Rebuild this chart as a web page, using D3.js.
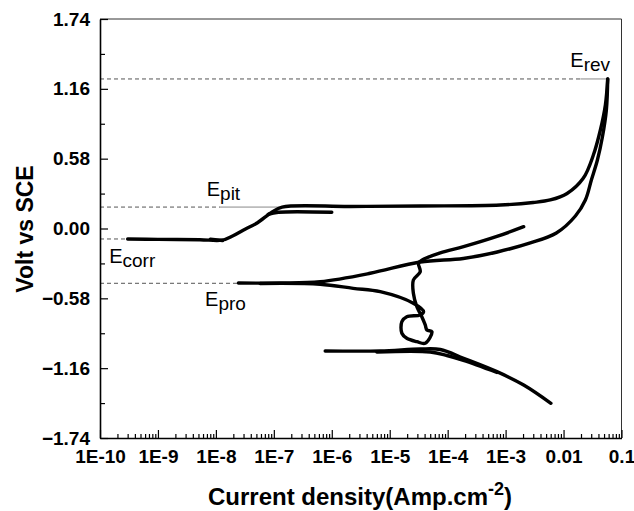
<!DOCTYPE html>
<html>
<head>
<meta charset="utf-8">
<script src="https://cdn.jsdelivr.net/npm/d3@7"></script>
<style>
body { margin: 0; background: #fff; }
text { font-family: "Liberation Sans", Arial, sans-serif; }
</style>
</head>
<body>
<div id="chart"></div>
<script>
// values: [current density A/cm2, volt vs SCE]
var forwardScan = [
  [3.0e-10, -0.087], [1.0e-9, -0.090], [5.3e-9, -0.093], [1.28e-8, -0.097],
  [1.98e-8, -0.060], [3.19e-8, -0.006], [5.15e-8, 0.046], [9.35e-8, 0.137],
  [1.39e-7, 0.178], [2.08e-6, 0.183], [3.37e-5, 0.187], [8.1e-4, 0.195],
  [3.0e-3, 0.216], [5.9e-3, 0.237], [0.0115, 0.291], [0.022, 0.419],
  [0.0327, 0.610], [0.0432, 0.818], [0.0527, 1.026], [0.0578, 1.242]
];
var ecorrBlob = [[8.0e-9, -0.088], [1.3e-8, -0.100]];
var passiveStep = [[8.0e-8, 0.118], [1.2e-7, 0.135], [1.0e-6, 0.135]];
var reverseScan = [
  [0.0578, 1.242], [0.0548, 0.984], [0.0468, 0.760], [0.0384, 0.569],
  [0.0302, 0.403], [0.0238, 0.237], [0.016, 0.104], [7.52e-3, -0.037],
  [2.67e-3, -0.120], [7.19e-4, -0.195], [1.86e-4, -0.249], [3.36e-5, -0.278],
  [4.6e-6, -0.372], [6.3e-7, -0.442], [1.29e-7, -0.453], [2.45e-8, -0.453]
];
var cathodicLoop = [
  [5.8e-8, -0.457], [6.3e-7, -0.463], [2.34e-6, -0.497], [6.86e-6, -0.525],
  [2.55e-5, -0.621], [3.84e-5, -0.691], [3.36e-5, -0.718], [1.97e-5, -0.733],
  [1.62e-5, -0.774], [1.62e-5, -0.870], [1.97e-5, -0.912], [2.94e-5, -0.940],
  [4.1e-5, -0.953], [5.34e-5, -0.857], [4.38e-5, -0.843], [4.1e-5, -0.801],
  [3.58e-5, -0.733], [2.94e-5, -0.650], [2.56e-5, -0.538], [2.56e-5, -0.428],
  [3.36e-5, -0.359], [3.14e-5, -0.289], [3.64e-5, -0.262], [7.45e-5, -0.203],
  [1.88e-4, -0.151], [7.08e-4, -0.066], [2.05e-3, 0.015]
];
var cathodicTail = [
  [7.7e-7, -1.017], [6.86e-6, -1.017], [3.36e-5, -1.001], [7.45e-5, -1.005],
  [1.88e-4, -1.078], [7.08e-4, -1.189], [2.05e-3, -1.300], [6.05e-3, -1.452]
];
var cathodicTail2 = [
  [6.0e-6, -1.026], [5.0e-5, -1.026], [9.7e-5, -1.055], [1.87e-4, -1.095], [7.08e-4, -1.195]
];

// reference potentials
var refNames = ["rev", "pit", "corr", "pro"];
var refVolts = [1.242, 0.178, -0.087, -0.455];
var refDashEnd = [0.0195, 1.18e-8, 3.0e-10, 2.45e-8];
var refSolidEnd = [0.0578, 1.29e-7, null, null];
var labelCurrents = [0.0131, 6.95e-9, 1.44e-10, 6.5e-9];
var labelOffsets = [-12, -11, 24, 23];

var xTicks = [1e-10, 1e-9, 1e-8, 1e-7, 1e-6, 1e-5, 1e-4, 1e-3, 1e-2, 1e-1];
var xTickLabels = ["1E-10", "1E-9", "1E-8", "1E-7", "1E-6", "1E-5", "1E-4", "1E-3", "0.01", "0.1"];
var yTicks = [-1.74, -1.16, -0.58, 0.00, 0.58, 1.16, 1.74];
var yMinor = [-1.45, -0.87, -0.29, 0.29, 0.87, 1.45];

var W = 634, H = 511;
var svg = d3.select("#chart").append("svg")
    .attr("width", W)
    .attr("height", H);

var x = d3.scaleLog().domain([1e-10, 0.1]).range([100, 621.5]);
var y = d3.scaleLinear().domain([-1.74, 1.74]).range([438, 19]);

// minor ticks on log axis
var xMinor = [];
xTicks.slice(0, -1).forEach(function(t) {
  for (var d = 2; d <= 9; d++) xMinor.push(t * d);
});

// frame top/right
svg.append("path")
    .attr("d", "M" + x.range()[0] + "," + y.range()[1] + "H" + x.range()[1] + "V" + y.range()[0])
    .attr("fill", "none")
    .attr("stroke", "#333")
    .attr("stroke-width", 1);

// reference lines
refVolts.forEach(function(v, k) {
  svg.append("line")
      .attr("x1", x.range()[0]).attr("x2", x(refDashEnd[k]))
      .attr("y1", y(v)).attr("y2", y(v))
      .attr("stroke", "#555").attr("stroke-width", 1)
      .attr("stroke-dasharray", "4,3");
  if (refSolidEnd[k]) {
    svg.append("line")
        .attr("x1", x(refDashEnd[k])).attr("x2", x(refSolidEnd[k]))
        .attr("y1", y(v)).attr("y2", y(v))
        .attr("stroke", "#888").attr("stroke-width", 1);
  }
  var t = svg.append("text")
      .attr("x", x(labelCurrents[k]))
      .attr("y", y(v) + labelOffsets[k])
      .style("font-size", "20px")
      .text("E");
  t.append("tspan")
      .attr("dy", 4)
      .style("font-size", "19px")
      .text(refNames[k]);
});

// curves
var line = d3.line()
    .x(function(d) { return x(d[0]); })
    .y(function(d) { return y(d[1]); })
    .curve(d3.curveCatmullRom.alpha(0.5));

var series = [forwardScan, ecorrBlob, passiveStep, reverseScan, cathodicLoop, cathodicTail, cathodicTail2];
svg.selectAll("path.curve")
    .data(series)
  .enter().append("path")
    .attr("class", "curve")
    .attr("d", line)
    .attr("fill", "none")
    .attr("stroke", "#000")
    .attr("stroke-width", 3.4)
    .attr("stroke-linecap", "round")
    .attr("stroke-linejoin", "round");

// axes
svg.append("g")
    .attr("transform", "translate(0," + y.range()[0] + ")")
    .call(d3.axisBottom(x).tickValues(xTicks).tickSizeInner(-8).tickSizeOuter(0).tickPadding(12)
      .tickFormat(function(d, i) { return xTickLabels[i]; }));
svg.append("g")
    .attr("transform", "translate(0," + y.range()[0] + ")")
    .call(d3.axisBottom(x).tickValues(xMinor).tickSizeInner(-4).tickSizeOuter(0).tickFormat(""))
    .call(function(g) { g.select(".domain").remove(); });

svg.append("g")
    .attr("transform", "translate(" + x.range()[0] + ",0)")
    .call(d3.axisLeft(y).tickValues(yTicks).tickSizeInner(-8).tickSizeOuter(0).tickPadding(10)
      .tickFormat(d3.format(".2f")));
svg.append("g")
    .attr("transform", "translate(" + x.range()[0] + ",0)")
    .call(d3.axisLeft(y).tickValues(yMinor).tickSizeInner(-5).tickSizeOuter(0).tickFormat(""))
    .call(function(g) { g.select(".domain").remove(); });

svg.selectAll(".tick line").attr("stroke", "#000").attr("stroke-width", 1.2);
svg.selectAll(".domain").attr("stroke", "#000").attr("stroke-width", 1.6);
svg.selectAll(".tick text")
    .style("font-family", "'Liberation Sans', Arial, sans-serif")
    .style("font-size", "19px")
    .style("font-weight", "bold")
    .attr("fill", "#000");

// axis titles
var xt = svg.append("text")
    .attr("x", 360)
    .attr("y", 505)
    .attr("text-anchor", "middle")
    .style("font-size", "24px")
    .style("font-weight", "bold")
    .text("Current density(Amp.cm");
xt.append("tspan").attr("dy", -10).style("font-size", "18px").text("-2");
xt.append("tspan").attr("dy", 10).text(")");

svg.append("text")
    .attr("transform", "translate(33,229) rotate(-90)")
    .attr("text-anchor", "middle")
    .style("font-size", "23px")
    .style("font-weight", "bold")
    .text("Volt vs SCE");
</script>
</body>
</html>
